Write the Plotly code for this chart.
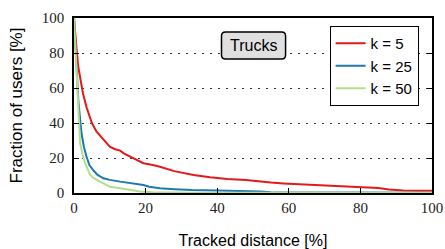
import plotly.graph_objects as go

# k = 5
red_x = [0, 0.3, 0.75, 1.2, 1.7, 2.5, 3.5, 5, 6.3, 8, 10, 11.5, 12.9, 14, 15.7, 17.5, 19.4, 22, 24, 28,
         33.4, 38, 42.8, 48, 52, 55, 58.5, 65, 70, 75, 80, 85, 88, 92, 96, 100]
red_y = [100, 90, 81.7, 72, 66.5, 57, 49, 40, 35, 31, 26.5, 25, 24.2, 22.5, 20.8, 19, 17, 16, 15, 12.5,
         10.3, 9, 8, 7.4, 6.5, 6, 5.5, 4.8, 4.3, 4, 3.6, 2.8, 2, 1.4, 1.3, 1.3]
# k = 25
blue_x = [0, 0.4, 0.8, 1.2, 2.1, 2.8, 3.5, 4.3, 5.4, 6.5, 8.2, 10, 12.9, 16, 19.4, 21, 24, 28, 33, 40,
          48, 52, 55, 60, 80, 100]
blue_y = [100, 85, 68, 53, 34, 26, 20.8, 16, 13, 10.5, 8.4, 7.5, 6.5, 5.5, 4.6, 3.6, 2.7, 2.2, 1.7, 1.5,
          1.2, 0.8, 0.5, 0.4, 0.3, 0.2]
# k = 50
green_x = [0, 0.4, 0.8, 1.2, 1.7, 2.4, 3.1, 4.5, 5.5, 7.3, 8.5, 10, 12, 14.8, 17, 18.5, 22, 26, 35, 60, 100]
green_y = [100, 82, 63, 46, 28.5, 22, 17, 10.3, 8.5, 6.5, 5, 3.6, 3, 2.1, 1.5, 0.8, 0.5, 0.3, 0.2, 0.1, 0.1]

series = [("k = 5", red_x, red_y, "#e31a1c"),
          ("k = 25", blue_x, blue_y, "#1f78b4"),
          ("k = 50", green_x, green_y, "#b2df8a")]

tick_vals = [0, 20, 40, 60, 80, 100]
tick_text = ["0", "20", "40", "60", "80", "100"]

fig = go.Figure()
for name, xs, ys, col in series:
    fig.add_trace(go.Scatter(x=xs, y=ys, mode="lines", name=name,
                             line=dict(color=col, width=2)))

W, H = 357.0, 175.0
x0, x1, y0, y1 = 41.2, 59.1, 76.6, 92.0
r = 4
rx, ry = r / W * 100, r / H * 100
path = (f"M {x0+rx},{y1} L {x1-rx},{y1} Q {x1},{y1} {x1},{y1-ry} "
        f"L {x1},{y0+ry} Q {x1},{y0} {x1-rx},{y0} L {x0+rx},{y0} "
        f"Q {x0},{y0} {x0},{y0+ry} L {x0},{y1-ry} Q {x0},{y1} {x0+rx},{y1} Z")
fig.add_shape(type="path", path=path, xref="x", yref="y",
              fillcolor="#e0e0e0", line=dict(color="black", width=1.5), layer="above")
fig.add_annotation(x=(x0 + x1) / 2, y=(y0 + y1) / 2, xref="x", yref="y", text="Trucks",
                   showarrow=False, font=dict(family="Liberation Sans", size=16, color="black"))

fig.update_layout(
    width=445, height=249,
    margin=dict(l=74, r=13, t=18, b=56, autoexpand=False),
    plot_bgcolor="white", paper_bgcolor="white",
    showlegend=True,
    legend=dict(x=0.714, y=0.954, xanchor="left", yanchor="top",
                bgcolor="white", bordercolor="black", borderwidth=1,
                font=dict(family="Liberation Sans", size=15, color="black"),
                itemwidth=30, tracegroupgap=0),
    xaxis=dict(range=[0, 100], tickvals=tick_vals, ticktext=tick_text,
               ticks="inside", ticklen=5, tickcolor="black", tickwidth=1,
               showline=True, linecolor="black", linewidth=1.5, mirror=True,
               showgrid=False, zeroline=False,
               tickfont=dict(family="Liberation Serif", size=15, color="#222"),
               title=dict(text="Tracked distance [%]", standoff=20,
                          font=dict(family="Liberation Sans", size=16, color="black"))),
    yaxis=dict(range=[0, 100], tickvals=tick_vals, ticktext=tick_text,
               ticks="inside", ticklen=5, tickcolor="black", tickwidth=1,
               ticklabelstandoff=5,
               showline=True, linecolor="black", linewidth=1.5, mirror="ticks",
               showgrid=True, gridcolor="#333", gridwidth=1, griddash="2px,6px",
               zeroline=False,
               tickfont=dict(family="Liberation Serif", size=15, color="#222"),
               title=dict(text="Fraction of users [%]", standoff=15,
                          font=dict(family="Liberation Sans", size=17, color="black"))),
)

fig.write_html("out.html", config={"displayModeBar": False},
               post_script="document.body.style.margin='0';document.body.style.overflow='hidden';")
